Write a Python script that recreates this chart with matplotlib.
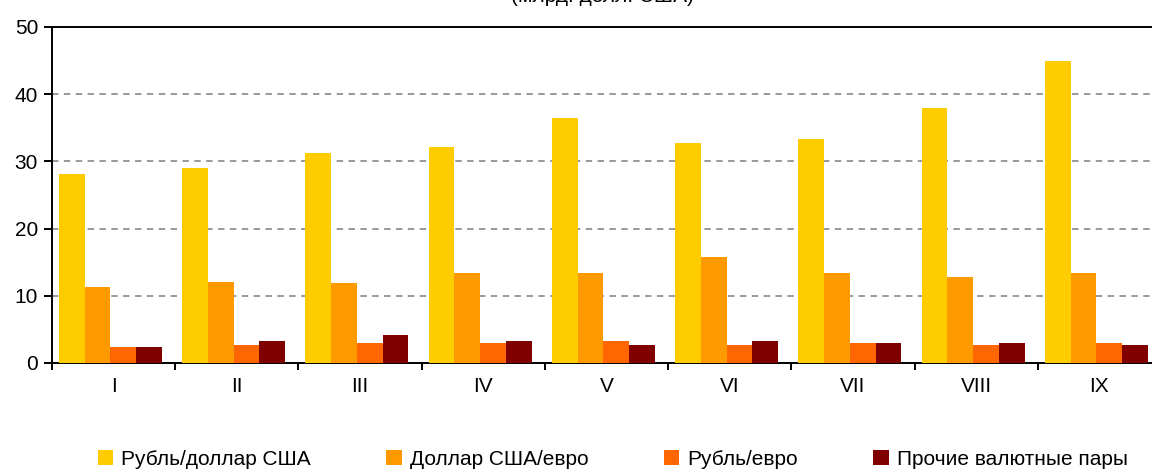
import matplotlib
matplotlib.use("Agg")
import matplotlib.pyplot as plt
import numpy as np

plt.rcParams['font.family'] = ['Liberation Sans', 'DejaVu Sans']

months = ['I', 'II', 'III', 'IV', 'V', 'VI', 'VII', 'VIII', 'IX']
rub_usd = [28.1, 29.0, 31.3, 32.2, 36.4, 32.8, 33.4, 37.9, 44.9]
usd_eur = [11.3, 12.0, 11.9, 13.4, 13.4, 15.8, 13.4, 12.8, 13.4]
rub_eur = [2.4, 2.7, 3.0, 3.0, 3.3, 2.7, 3.0, 2.7, 3.0]
other = [2.4, 3.3, 4.2, 3.3, 2.7, 3.3, 3.0, 3.0, 2.7]

series = [rub_usd, usd_eur, rub_eur, other]
names = ['Рубль/доллар США', 'Доллар США/евро', 'Рубль/евро', 'Прочие валютные пары']
colors = ['#FFCC00', '#FF9900', '#FF6600', '#800000']

fig = plt.figure(figsize=(11.52, 4.71), dpi=100)
ax = fig.add_axes([0.0451, 0.2293, 0.9627, 0.7134])

x = np.arange(len(months))
w = 0.209
for i, (vals, col) in enumerate(zip(series, colors)):
    ax.bar(x + (i - 1.5) * w - 0.025, vals, width=w, color=col, label=names[i],
           edgecolor='none', zorder=3)

ax.set_xlim(-0.5, len(months) - 0.5)
ax.set_ylim(0, 50)
ax.set_yticks([0, 10, 20, 30, 40, 50])
ax.yaxis.grid(True, color='#999999', linestyle=(0, (3.3, 2.8)), linewidth=1.4, zorder=1)

ax.set_xticks(x)
ax.set_xticklabels(months)
ax.set_xticks(np.arange(-0.5, len(months), 1), minor=True)
ax.tick_params(axis='x', which='major', length=0, pad=10, labelsize=15)
ax.tick_params(axis='x', which='minor', length=5, width=1.4, direction='out')
ax.tick_params(axis='y', length=6, width=1.4, pad=4, labelsize=15)

for s in ['left', 'bottom', 'top', 'right']:
    ax.spines[s].set_linewidth(1.4)
    ax.spines[s].set_color('black')

fig.text(0.523, 1.007, '(млрд. долл. США)', ha='center', va='center', fontsize=15)

fig.legend(loc='center', bbox_to_anchor=(0.532, 0.025), ncol=4, frameon=False,
           fontsize=15, handlelength=0.75, handleheight=0.75, handletextpad=0.4,
           columnspacing=3.6)

fig.savefig('out.png', dpi=100)
